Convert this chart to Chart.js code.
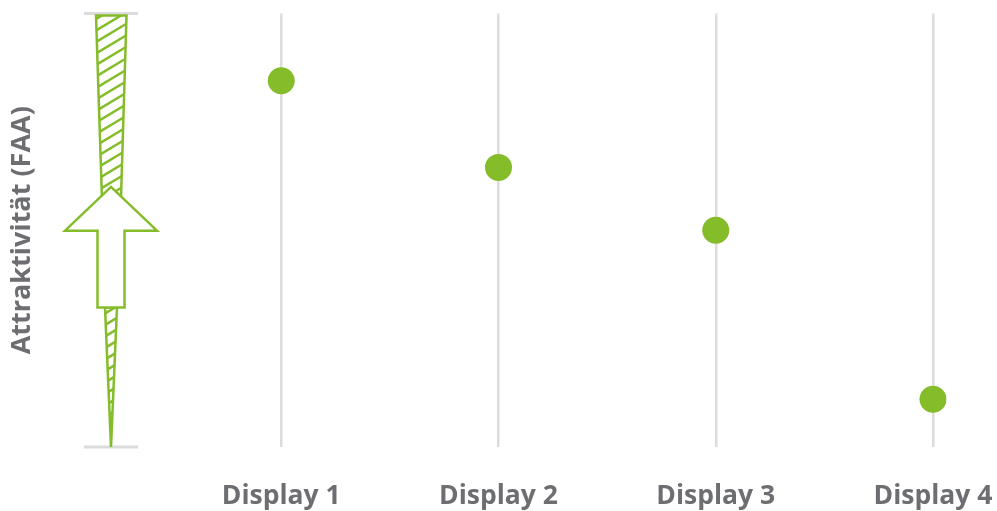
<!DOCTYPE html>
<html>
<head>
<meta charset="utf-8">
<script src="https://cdn.jsdelivr.net/npm/chart.js@4/dist/chart.umd.min.js"></script>
<style>
  body { margin: 0; background: #fff; }
  #wrap { width: 997px; height: 511px; }
</style>
</head>
<body>
<div id="wrap"><canvas id="chart" width="997" height="511"></canvas></div>
<script>
const categories = ["Display 1", "Display 2", "Display 3", "Display 4"];
const attraktivitaet = [8.45, 6.45, 5.0, 1.1];
const yRange = [0, 10];
const yTitle = "Attraktivität (FAA)";

const green = "#84bc2a";
const gray = "#6d6e71";
const gridGray = "#dcdcdc";

// first slot is the empty column that holds the arrow
const labels = [""].concat(categories);
const values = [null].concat(attraktivitaet);

function hatch(ctx, poly, top, bottom, left, right) {
  ctx.save();
  ctx.beginPath();
  poly.forEach((p, i) => (i ? ctx.lineTo(p[0], p[1]) : ctx.moveTo(p[0], p[1])));
  ctx.closePath();
  ctx.fillStyle = "#fff";
  ctx.fill();
  ctx.clip();
  ctx.strokeStyle = green;
  ctx.lineWidth = 2.5;
  for (let y = top; y < bottom + 40; y += 11.5) {
    ctx.beginPath();
    ctx.moveTo(left - 5, y);
    ctx.lineTo(right + 5, y - (right - left + 10) * 0.6);
    ctx.stroke();
  }
  ctx.restore();
  ctx.save();
  ctx.beginPath();
  poly.forEach((p, i) => (i ? ctx.lineTo(p[0], p[1]) : ctx.moveTo(p[0], p[1])));
  ctx.closePath();
  ctx.strokeStyle = green;
  ctx.lineWidth = 2.5;
  ctx.lineJoin = "miter";
  ctx.stroke();
  ctx.restore();
}

const arrowPlugin = {
  id: "arrow",
  beforeDatasetsDraw(chart) {
    const ctx = chart.ctx;
    const a = chart.chartArea;
    const h = a.bottom - a.top;
    const cx = a.left + 47;
    const Y = f => a.top + f * h;

    // short end lines
    ctx.save();
    ctx.strokeStyle = gridGray;
    ctx.lineWidth = 3;
    [a.top, a.bottom].forEach(y => {
      ctx.beginPath();
      ctx.moveTo(cx - 27, y);
      ctx.lineTo(cx + 27, y);
      ctx.stroke();
    });
    ctx.restore();

    const tipY = Y(0.4), baseY = Y(0.501), shaftY = Y(0.678);

    // upper hatched wedge
    hatch(ctx, [[cx - 15, a.top + 2], [cx + 15.5, a.top + 2], [cx + 9, baseY], [cx - 8, baseY]],
      a.top, baseY, cx - 20, cx + 20);

    // lower hatched wedge
    hatch(ctx, [[cx - 6, shaftY], [cx + 6, shaftY], [cx, a.bottom]],
      shaftY, a.bottom, cx - 10, cx + 10);

    // hollow arrow
    ctx.save();
    ctx.beginPath();
    ctx.moveTo(cx, tipY);
    ctx.lineTo(cx + 46, baseY);
    ctx.lineTo(cx + 13.5, baseY);
    ctx.lineTo(cx + 13.5, shaftY);
    ctx.lineTo(cx - 13.5, shaftY);
    ctx.lineTo(cx - 13.5, baseY);
    ctx.lineTo(cx - 46, baseY);
    ctx.closePath();
    ctx.fillStyle = "#fff";
    ctx.fill();
    ctx.strokeStyle = green;
    ctx.lineWidth = 2.5;
    ctx.stroke();
    ctx.restore();
  }
};

new Chart(document.getElementById("chart"), {
  type: "line",
  data: {
    labels: labels,
    datasets: [
      {
        data: values,
        showLine: false,
        pointRadius: 13.5,
        pointHoverRadius: 13.5,
        pointBackgroundColor: green,
        pointBorderColor: green,
        pointBorderWidth: 0,
      },
    ],
  },
  options: {
    responsive: false,
    animation: false,
    layout: {
      padding: { top: 12, bottom: 0, left: 0, right: 0 },
    },
    plugins: {
      legend: { display: false },
      tooltip: { enabled: false },
    },
    scales: {
      x: {
        type: "category",
        offset: false,
        border: { display: false },
        grid: {
          color: c => (c.index === 0 ? "rgba(0,0,0,0)" : gridGray),
          lineWidth: 2.5,
          drawTicks: false,
        },
        ticks: {
          color: gray,
          padding: 34,
          maxRotation: 0,
          font: { family: "'Open Sans'", size: 26.5, weight: "bold" },
        },
        afterFit: s => {
          s.height = 64;
          s.paddingRight = 64;
          s.paddingLeft = 0;
        },
      },
      y: {
        min: yRange[0],
        max: yRange[1],
        border: { display: false },
        grid: { display: false, drawTicks: false },
        ticks: { display: false },
        title: {
          display: true,
          text: yTitle,
          color: gray,
          padding: { top: 6, bottom: 10 },
          font: { family: "'Open Sans'", size: 27, weight: "bold" },
        },
        afterFit: s => { s.width = 64; },
      },
    },
  },
  plugins: [arrowPlugin],
});
</script>
</body>
</html>
